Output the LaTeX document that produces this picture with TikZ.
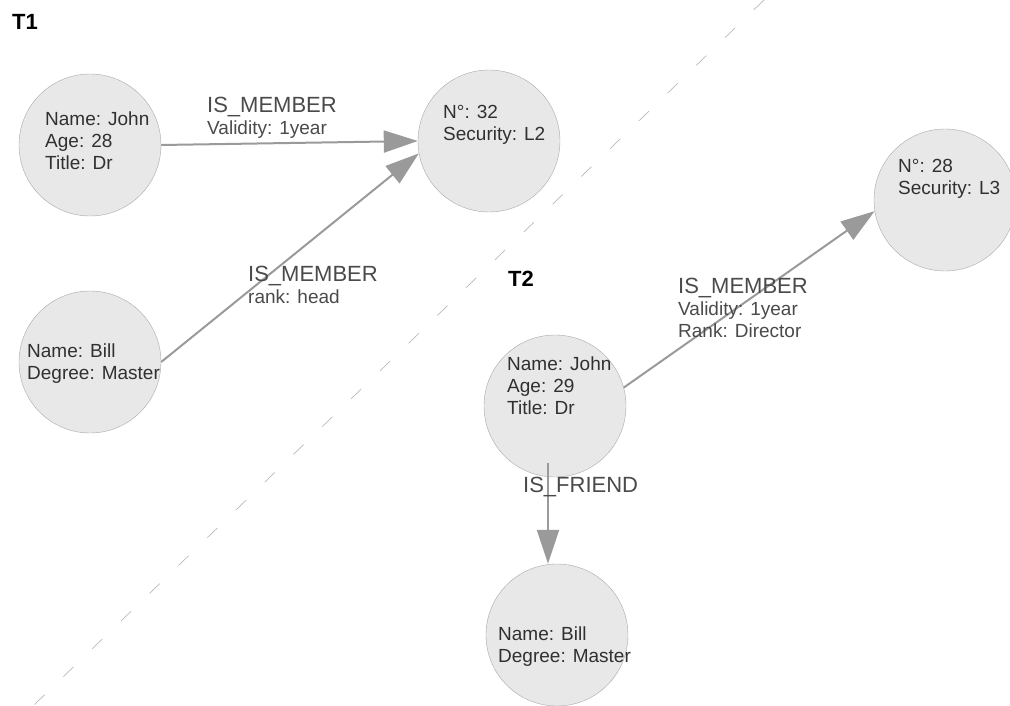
\documentclass[tikz,border=0pt]{standalone}
\usepackage{fontspec}
\setmainfont{Liberation Sans}
\usetikzlibrary{arrows.meta}
\definecolor{nodefill}{HTML}{E8E8E8}
\definecolor{nodeline}{HTML}{A8A8A8}
\definecolor{relgray}{HTML}{9A9A9A}
\definecolor{txtgray}{HTML}{303030}
\definecolor{lblgray}{HTML}{4A4A4A}

\begin{document}
\begin{tikzpicture}[x=1pt,y=-1pt]
\tikzstyle{entity}=[circle,draw=nodeline,fill=nodefill,minimum size=142pt,inner sep=0pt]
\tikzstyle{props}=[anchor=base west,align=left,inner sep=0pt,text=txtgray,font=\fontsize{19}{22}\selectfont]
\tikzstyle{rellabel}=[anchor=base west,align=left,inner sep=0pt,text=lblgray,font=\fontsize{19}{22}\selectfont]
\tikzstyle{rel}=[draw=relgray,line width=2pt,-{Triangle[length=34pt,width=22pt]}]
\tikzstyle{title}=[anchor=base west,inner sep=0pt,font=\bfseries\fontsize{22}{22}\selectfont]
	\useasboundingbox (0,0) rectangle (1010,706);
	% split between the two snapshots
	\coordinate (splittop) at (764,0);
	\coordinate (splitbot) at (33,706);
	\draw[nodeline!80,line width=0.7pt,dash pattern=on 14pt off 26pt] (splittop) -- (splitbot);

	\node[title] (t1) at (12,30) {T1};
	\node[title] (t2) at (508,286) {T2};

	\node[entity] (john1) at (90,145) {};
	\node[entity] (grp32) at (489,141) {};
	\node[entity] (bill1) at (90,362) {};
	\node[entity] (grp28) at (945,200) {};
	\node[entity] (john2) at (555,406) {};
	\node[entity] (bill2) at (557,635) {};

	% anchors sit on the last line
	\node[props] (john1txt) at (45,170) {Name: John\\Age: 28\\Title: Dr};
	\node[props] (grp32txt) at (443,141) {N°: 32\\Security: L2};
	\node[props] (bill1txt) at (27,379) {Name: Bill\\Degree: Master};
	\node[props] (grp28txt) at (898,195) {N°: 28\\Security: L3};
	\node[props] (john2txt) at (507,414) {Name: John\\Age: 29\\Title: Dr};
	\node[props] (bill2txt) at (498,662) {Name: Bill\\Degree: Master};

	\draw[rel] (john1.east) -- (grp32.west);
	\draw[rel] (bill1.east) -- (grp32.190);
	\draw[rel] (john2.15) -- (grp28.189);
	\draw[rel] ([xshift=-7pt,yshift=14pt]john2.south) -- ([xshift=-9pt]bill2.north);

	\node[rellabel] (member1) at (207,135) {{\fontsize{22}{22}\selectfont IS\_MEMBER}\\Validity: 1year};
	\node[rellabel] (member2) at (248,303) {{\fontsize{22}{22}\selectfont IS\_MEMBER}\\rank: head};
	\node[rellabel] (member3) at (678,337) {{\fontsize{22}{22}\selectfont IS\_MEMBER}\\Validity: 1year\\Rank: Director};
	\node[rellabel] (friend) at (523,492) {{\fontsize{22}{22}\selectfont IS\_FRIEND}};
\end{tikzpicture}
\end{document}
